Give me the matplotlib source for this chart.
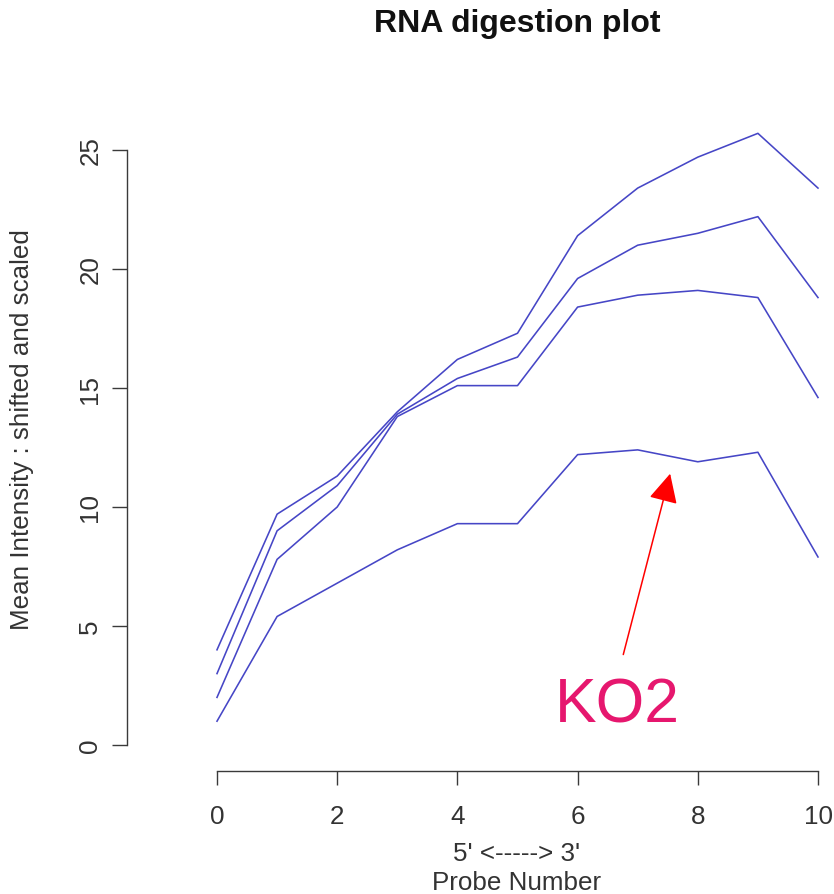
import matplotlib
matplotlib.use('Agg')
import matplotlib.pyplot as plt

# probe index along the transcript, 5' -> 3'
probe = [0, 1, 2, 3, 4, 5, 6, 7, 8, 9, 10]

# mean intensity per array, shifted and scaled
array1 = [4.0, 9.7, 11.3, 14.0, 16.2, 17.3, 21.4, 23.4, 24.7, 25.7, 23.4]
array2 = [3.0, 9.0, 10.9, 13.9, 15.4, 16.3, 19.6, 21.0, 21.5, 22.2, 18.8]
array3 = [2.0, 7.8, 10.0, 13.8, 15.1, 15.1, 18.4, 18.9, 19.1, 18.8, 14.6]
ko2 = [1.0, 5.4, 6.8, 8.2, 9.3, 9.3, 12.2, 12.4, 11.9, 12.3, 7.9]

xticks = [0, 2, 4, 6, 8, 10]
yticks = [0, 5, 10, 15, 20, 25]

plt.rcParams['font.family'] = ['Liberation Sans', 'DejaVu Sans']

W, H = 834, 895
fig = plt.figure(figsize=(W / 100.0, H / 100.0), dpi=100)
ax = fig.add_axes([217.0 / W, (H - 746.0) / H, 601.0 / W, 595.0 / H])

line_col = '#4646c6'
for s in (array1, array2, array3, ko2):
    ax.plot(probe, s, color=line_col, lw=1.15, clip_on=False)

ax.set_xlim(0, 10)
ax.set_ylim(0, 25)
ax.set_xticks(xticks)
ax.set_yticks(yticks)

# R style detached axes
for side in ('top', 'right'):
    ax.spines[side].set_visible(False)
ax.spines['left'].set_position(('outward', 90 * 0.72))
ax.spines['bottom'].set_position(('outward', 26 * 0.72))
for side in ('left', 'bottom'):
    ax.spines[side].set_color('#3a3a3a')
    ax.spines[side].set_linewidth(1.0)

ax.tick_params(axis='x', length=10, width=1.0, color='#3a3a3a', pad=14,
               labelsize=18.7, labelcolor='#333333')
ax.tick_params(axis='y', length=10.8, width=1.0, color='#3a3a3a', pad=7,
               labelsize=18.7, labelcolor='#333333')
for lab in ax.get_yticklabels():
    lab.set_rotation(90)
    lab.set_va('center')

fig.text(517.0 / W, 1 - 32.0 / H, 'RNA digestion plot', ha='center', va='baseline',
         fontsize=23, fontweight='bold', color='#111111')
fig.text(517.0 / W, 1 - 854.0 / H, "5' <-----> 3'", ha='center', va='center',
         fontsize=18.7, color='#333333')
fig.text(517.0 / W, 1 - 883.0 / H, 'Probe Number', ha='center', va='center',
         fontsize=18.7, color='#333333')
fig.text(22.0 / W, 1 - 430.0 / H, 'Mean Intensity : shifted and scaled', rotation=90,
         ha='center', va='center', fontsize=18.7, color='#333333')

# call-out for the knockout sample
ax.annotate('', xy=(7.54, 11.4), xytext=(6.76, 3.8),
            arrowprops=dict(arrowstyle='-|>,head_length=1.8,head_width=0.9',
                            mutation_scale=10, color='#ff0000', lw=1.1,
                            shrinkA=0, shrinkB=0))
ax.text(6.67, 1.7, 'KO2', ha='center', va='center', fontsize=45,
        color='#e6176e')

plt.savefig('out.png', dpi=100)
